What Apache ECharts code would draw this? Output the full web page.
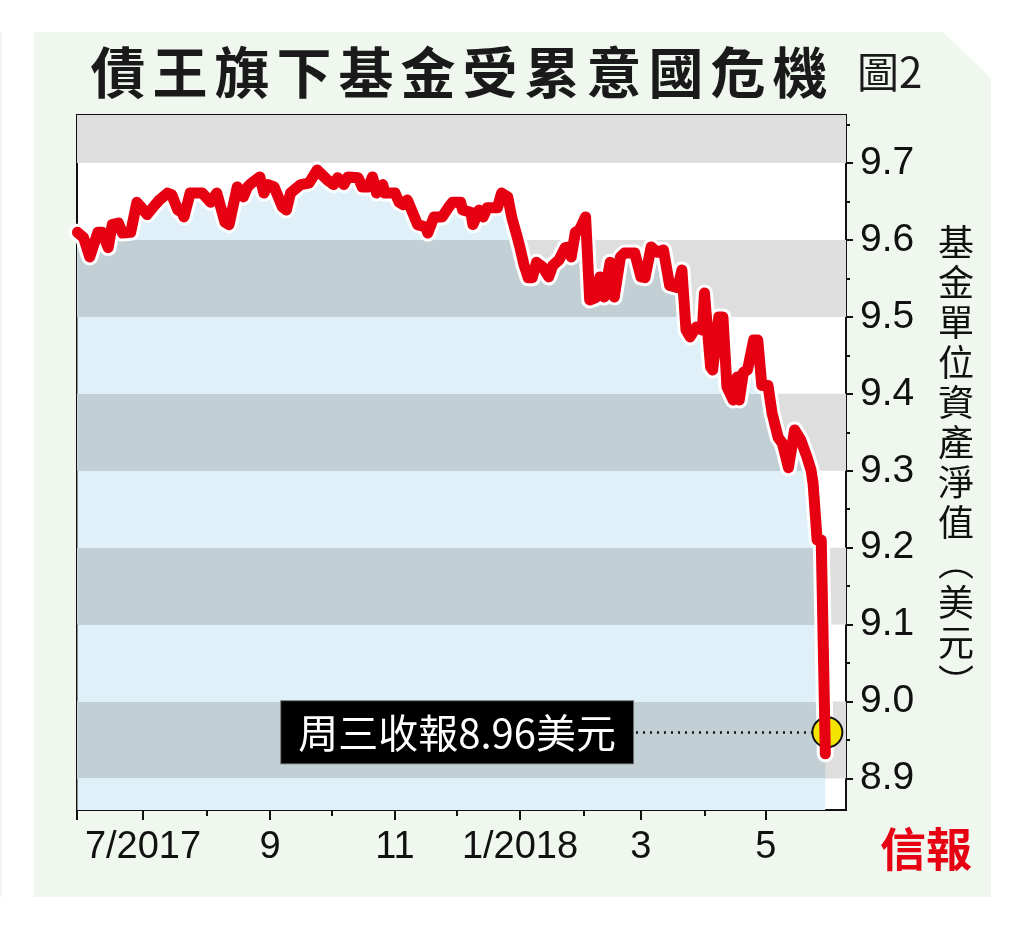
<!DOCTYPE html>
<html>
<head>
<meta charset="utf-8">
<title>債王旗下基金受累意國危機</title>
<script src="https://cdn.jsdelivr.net/npm/echarts@6.0.0/dist/echarts.min.js"></script>
<style>
  html, body { margin: 0; padding: 0; background: #fff; }
  #chart { width: 1024px; height: 925px; }
</style>
</head>
<body>
<div id="chart"></div>
<script>
// 日期 / 基金單位資產淨值
const dates = [
  '2017-05-30', '2017-06-02', '2017-06-05', '2017-06-09', '2017-06-11', '2017-06-14', '2017-06-16', '2017-06-19',
  '2017-06-21', '2017-06-25', '2017-06-28', '2017-06-30', '2017-07-03', '2017-07-07', '2017-07-09', '2017-07-13',
  '2017-07-15', '2017-07-18', '2017-07-20', '2017-07-21', '2017-07-24', '2017-07-30', '2017-08-03', '2017-08-06',
  '2017-08-10', '2017-08-12', '2017-08-16', '2017-08-19', '2017-08-21', '2017-08-23', '2017-08-27', '2017-08-29',
  '2017-08-31', '2017-09-03', '2017-09-07', '2017-09-09', '2017-09-11', '2017-09-16', '2017-09-20', '2017-09-24',
  '2017-09-29', '2017-10-02', '2017-10-04', '2017-10-07', '2017-10-09', '2017-10-14', '2017-10-16', '2017-10-19',
  '2017-10-21', '2017-10-23', '2017-10-26', '2017-10-27', '2017-11-01', '2017-11-03', '2017-11-05', '2017-11-07',
  '2017-11-10', '2017-11-12', '2017-11-16', '2017-11-17', '2017-11-20', '2017-11-24', '2017-11-27', '2017-11-29',
  '2017-12-03', '2017-12-04', '2017-12-08', '2017-12-09', '2017-12-12', '2017-12-14', '2017-12-16', '2017-12-21',
  '2017-12-23', '2017-12-26', '2017-12-28', '2017-12-30', '2018-01-01', '2018-01-03', '2018-01-05', '2018-01-07',
  '2018-01-09', '2018-01-12', '2018-01-15', '2018-01-17', '2018-01-20', '2018-01-23', '2018-01-25', '2018-01-26',
  '2018-01-28', '2018-01-30', '2018-02-02', '2018-02-04', '2018-02-07', '2018-02-09', '2018-02-11', '2018-02-14',
  '2018-02-16', '2018-02-19', '2018-02-21', '2018-02-26', '2018-03-01', '2018-03-03', '2018-03-06', '2018-03-09',
  '2018-03-12', '2018-03-15', '2018-03-19', '2018-03-21', '2018-03-23', '2018-03-25', '2018-03-28', '2018-03-31',
  '2018-04-01', '2018-04-04', '2018-04-05', '2018-04-08', '2018-04-10', '2018-04-12', '2018-04-15', '2018-04-17',
  '2018-04-18', '2018-04-20', '2018-04-22', '2018-04-25', '2018-04-27', '2018-04-29', '2018-05-02', '2018-05-04',
  '2018-05-07', '2018-05-09', '2018-05-12', '2018-05-15', '2018-05-18', '2018-05-21', '2018-05-23', '2018-05-24',
  '2018-05-26', '2018-05-28', '2018-05-30'
];
const nav = [
  9.610, 9.603, 9.578, 9.610, 9.610, 9.590, 9.620, 9.622,
  9.609, 9.610, 9.649, 9.643, 9.633, 9.646, 9.652, 9.661,
  9.659, 9.639, 9.636, 9.630, 9.661, 9.661, 9.649, 9.661,
  9.623, 9.620, 9.669, 9.656, 9.669, 9.674, 9.682, 9.661,
  9.672, 9.669, 9.643, 9.639, 9.661, 9.672, 9.674, 9.691,
  9.678, 9.672, 9.681, 9.672, 9.682, 9.681, 9.669, 9.669,
  9.682, 9.661, 9.672, 9.661, 9.661, 9.649, 9.646, 9.652,
  9.633, 9.620, 9.617, 9.609, 9.630, 9.630, 9.642, 9.649,
  9.649, 9.639, 9.636, 9.620, 9.639, 9.630, 9.642, 9.642,
  9.661, 9.656, 9.629, 9.610, 9.590, 9.567, 9.551, 9.551,
  9.571, 9.565, 9.552, 9.567, 9.574, 9.590, 9.591, 9.578,
  9.610, 9.613, 9.630, 9.522, 9.525, 9.552, 9.526, 9.571,
  9.526, 9.578, 9.583, 9.583, 9.552, 9.551, 9.591, 9.584,
  9.587, 9.541, 9.538, 9.561, 9.483, 9.474, 9.487, 9.483,
  9.531, 9.435, 9.431, 9.500, 9.500, 9.409, 9.392, 9.422,
  9.392, 9.428, 9.431, 9.470, 9.470, 9.411, 9.411, 9.375,
  9.343, 9.336, 9.304, 9.353, 9.340, 9.318, 9.301, 9.284,
  9.210, 9.210, 8.932
];

// 周三收市標註
const closeDate = '2018-05-31';
const closeValue = 8.96;
const noteText = '周三收報8.96美元';
const noteLineStart = '2018-02-26 14:00';
const noteLineEnd = '2018-05-24 12:00';

// 坐標軸刻度
const yTicks = [8.9, 9.0, 9.1, 9.2, 9.3, 9.4, 9.5, 9.6, 9.7];
const yHalfTicks = [8.95, 9.05, 9.15, 9.25, 9.35, 9.45, 9.55, 9.65, 9.75];
const grayBands = [[8.9, 9.0], [9.1, 9.2], [9.3, 9.4], [9.5, 9.6], [9.7, 9.7625]];
const xLabelDates = ['2017-07-01', '2017-09-01', '2017-11-01', '2018-01-01', '2018-03-01', '2018-05-01'];
const xLabelTexts = ['7/2017', '9', '11', '1/2018', '3', '5'];
const xMinorDates = ['2017-08-01', '2017-10-01', '2017-12-01', '2018-02-01', '2018-04-01'];

const xMin = '2017-05-29 19:00';
const xMax = '2018-06-09 02:00';
const yMin = 8.859;
const yMax = 9.7625;

const t = (s) => +echarts.time.parse(s);
const numFont = '"Liberation Sans", Arial, sans-serif';
const cjkFont = '"Noto Sans CJK TC", "Noto Sans CJK SC", sans-serif';

const gridTop = 115;
const gridBottom = 115;
const chartH = 925;

// 面積底色：灰帶在線下變成灰藍
const blue = '#dff0f9';
const dark = '#c2d0d6';
const f = (v) => (yMax - v) / (yMax - yMin);
const stops = [{ offset: 0, color: dark }];
let cur = dark;
[9.7, 9.6, 9.5, 9.4, 9.3, 9.2, 9.1, 9.0, 8.9].forEach((v) => {
  const o = f(v);
  stops.push({ offset: o, color: cur });
  cur = cur === dark ? blue : dark;
  stops.push({ offset: o, color: cur });
});
stops.push({ offset: 1, color: cur });
const areaGradient = {
  type: 'linear', x: 0, y: gridTop, x2: 0, y2: chartH - gridBottom,
  colorStops: stops, global: true
};

const lineData = dates.map((d, i) => [t(d), nav[i]]);
const labelTimes = xLabelDates.map(t);

const titleChars = '債王旗下基金受累意國危機'.split('').map((c) => '{c|' + c + '}').join('');

const myChart = echarts.init(document.getElementById('chart'));
const option = {
  animation: false,
  backgroundColor: 'transparent',
  title: {
    text: titleChars + '{s|}{d|圖2}',
    left: 82,
    top: 40,
    textStyle: {
      rich: {
        c: { fontFamily: cjkFont, fontSize: 55, fontWeight: 'bold', color: '#1a1a1a', width: 62, align: 'center' },
        s: { width: 26 },
        d: { fontFamily: cjkFont, fontSize: 42, fontWeight: 'normal', color: '#1a1a1a' }
      }
    }
  },
  graphic: [
    {
      type: 'polygon', z: -10, silent: true,
      shape: { points: [[34, 32], [943, 32], [991, 78], [991, 897], [34, 897]] },
      style: { fill: '#f0f7ef' }
    },
    {
      type: 'rect', z: -10, silent: true,
      shape: { x: 0, y: 32, width: 2, height: 865 },
      style: { fill: '#f0f7ef' }
    },
    {
      type: 'text', left: 880, top: 826, z: 10,
      style: { text: '信報', font: 'bold 46px ' + cjkFont, fill: '#e60012' }
    }
  ],
  grid: {
    left: 77, right: 178, top: gridTop, bottom: gridBottom,
    show: true, backgroundColor: '#fff', borderColor: '#111', borderWidth: 2
  },
  xAxis: [
    {
      type: 'value', min: t(xMin), max: t(xMax),
      axisLine: { show: true, lineStyle: { color: '#111', width: 2 } },
      axisTick: {
        show: true, length: 10, lineStyle: { color: '#111', width: 2 },
        customValues: [t(xMin)].concat(labelTimes)
      },
      axisLabel: {
        customValues: labelTimes,
        margin: 19,
        fontFamily: numFont, fontSize: 38, color: '#111',
        formatter: (v) => {
          const i = labelTimes.indexOf(v);
          return i >= 0 ? xLabelTexts[i] : '';
        }
      },
      splitLine: { show: false }
    },
    {
      type: 'value', min: t(xMin), max: t(xMax), position: 'bottom',
      axisLine: { show: false },
      axisTick: {
        show: true, length: 6, lineStyle: { color: '#111', width: 2 },
        customValues: xMinorDates.map(t)
      },
      axisLabel: { show: false },
      splitLine: { show: false }
    }
  ],
  yAxis: [
    {
      type: 'value', position: 'right', min: yMin, max: yMax,
      axisLine: { show: true, lineStyle: { color: '#111', width: 2 } },
      axisTick: { show: true, length: 7, lineStyle: { color: '#111', width: 2 }, customValues: yTicks },
      axisLabel: {
        customValues: yTicks, margin: 14,
        fontFamily: numFont, fontSize: 39, color: '#111',
        formatter: (v) => v.toFixed(1)
      },
      splitLine: { show: false },
      name: '基\n金\n單\n位\n資\n產\n淨\n值\n︵\n美\n元\n︶',
      nameLocation: 'middle',
      nameRotate: 0,
      nameGap: 92,
      nameTextStyle: { fontFamily: cjkFont, fontSize: 36, lineHeight: 40, color: '#111', padding: [18, 0, 0, 0] }
    },
    {
      type: 'value', position: 'right', min: yMin, max: yMax,
      axisLine: { show: false },
      axisTick: { show: true, length: 4, lineStyle: { color: '#111', width: 2 }, customValues: yHalfTicks },
      axisLabel: { show: false },
      splitLine: { show: false }
    }
  ],
  series: [
    {
      // 白色描邊 + 面積
      name: 'outline',
      type: 'line',
      data: lineData,
      symbol: 'none',
      z: 2,
      lineStyle: { color: '#fff', width: 17, cap: 'round', join: 'round' },
      areaStyle: { color: areaGradient, opacity: 1, origin: 'start' },
      markArea: {
        silent: true,
        itemStyle: { color: '#dedede' },
        data: grayBands.map((b) => [{ yAxis: b[0] }, { yAxis: b[1] }])
      }
    },
    {
      name: 'close',
      type: 'scatter',
      z: 3,
      data: [[t(closeDate), closeValue]],
      symbolSize: 30,
      itemStyle: { color: '#f3e500', borderColor: '#111', borderWidth: 2, opacity: 1 },
      markLine: {
        silent: true,
        symbol: 'none',
        lineStyle: { color: '#111', width: 2.5, type: [2, 5] },
        label: {
          show: true,
          position: 'start',
          distance: 3,
          formatter: noteText,
          fontFamily: cjkFont,
          fontSize: 40,
          color: '#fff',
          backgroundColor: '#000',
          borderColor: '#666',
          borderWidth: 1,
          padding: [11, 17, 11, 17]
        },
        data: [[{ coord: [t(noteLineStart), closeValue] }, { coord: [t(noteLineEnd), closeValue] }]]
      }
    },
    {
      name: 'nav',
      type: 'line',
      data: lineData,
      symbol: 'none',
      z: 4,
      lineStyle: { color: '#e60012', width: 11, cap: 'round', join: 'round' }
    }
  ]
};
myChart.setOption(option, true);
window.addEventListener('resize', () => {
  myChart.resize();
});
</script>
</body>
</html>
